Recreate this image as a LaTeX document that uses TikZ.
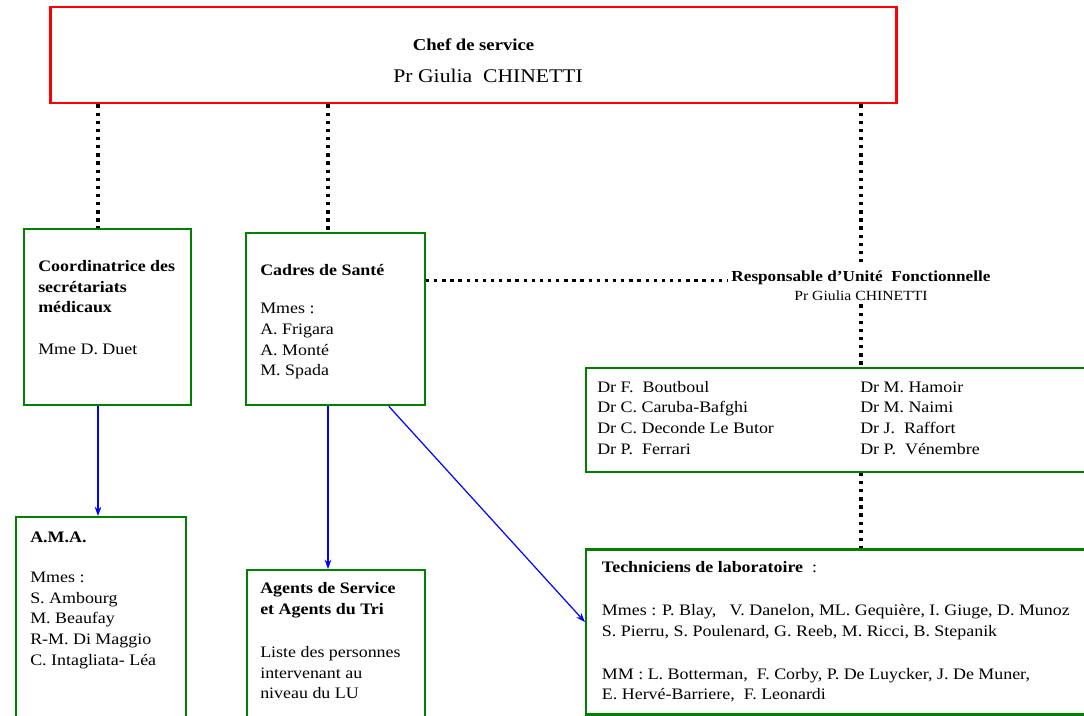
\documentclass[tikz,border=0pt]{standalone}
\usepackage{fontspec}
\setmainfont{Liberation Serif}[FakeStretch=1.12]
\usetikzlibrary{positioning,arrows.meta}
\definecolor{boxgreen}{RGB}{0,128,0}

\begin{document}
\begin{tikzpicture}[x=0.75pt, y=-0.75pt,
   redbox/.style={draw=red, line width=2.2pt},
   greenbox/.style={draw=boxgreen, line width=1.7pt, anchor=north west},
   dotline/.style={line width=2.5pt, dash pattern=on 2.5pt off 3.6pt},
   link/.style={draw=blue, line width=0.9pt, -{Stealth[length=7pt,width=5pt]}},
   txt/.style={anchor=north west, inner sep=0pt, align=left, font=\fontsize{12}{15.5}\selectfont}]
   \useasboundingbox (0,0) rectangle (1084,715);
   \clip (0,0) rectangle (1084,715);

   % boxes
   \node[redbox, minimum width=635pt, minimum height=72pt] (chef) at (473.5,55) {};
   \node[greenbox, minimum width=125pt, minimum height=132pt] (coord) at (23,228) {};
   \node[greenbox, minimum width=134pt, minimum height=129pt] (cadres) at (245,232) {};
   \node[greenbox, minimum width=394pt, minimum height=78pt] (docs) at (585,366.5) {};
   \node[greenbox, minimum width=127.5pt, minimum height=165pt] (ama) at (15,516) {};
   \node[greenbox, minimum width=133.5pt, minimum height=120pt] (agents) at (246,569) {};
   \node[greenbox, minimum width=394pt, minimum height=123.75pt] (tech) at (585,548.3) {};

   % texts
   \node[align=center, inner sep=0pt, font=\fontsize{14.5}{18}\selectfont, yshift=-4pt] (chefText) at (chef.center) {{\fontsize{12.5}{15}\bfseries Chef de service}\\[6pt]\hspace*{22pt}Pr Giulia~ CHINETTI};
   \node[txt] (coordText) at (38,256.7) {\strut\textbf{Coordinatrice des}\\\textbf{secrétariats}\\\textbf{médicaux}\\[15.5pt]Mme D. Duet};
   \node[txt] (cadresText) at (260,261) {\strut\textbf{Cadres de Santé}\\[13pt]Mmes :\\A. Frigara\\A. Monté\\M. Spada};
   \node[anchor=north, inner sep=3pt, align=center, font=\fontsize{11.5}{13}\selectfont] (resp) at (861,265) {\strut\textbf{Responsable d’Unité~ Fonctionnelle}\\[1pt]{\fontsize{10.5}{13}\selectfont Pr Giulia CHINETTI}};
   \node[txt] (docsLeft) at (597,377.5) {\strut Dr F.~ Boutboul\\Dr C. Caruba-Bafghi\\Dr C. Deconde Le Butor\\Dr P.~ Ferrari};
   \node[txt] (docsRight) at (860,377.5) {\strut Dr M. Hamoir\\Dr M. Naimi\\Dr J.~ Raffort\\Dr P.~ Vénembre};
   \node[txt] (amaText) at (30,527.5) {\strut\textbf{A.M.A.}\\[14.6pt]Mmes :\\S. Ambourg\\M. Beaufay\\R-M. Di Maggio\\C. Intagliata- Léa};
   \node[txt] (agentsText) at (260,579) {\strut\textbf{Agents de Service}\\\textbf{et Agents du Tri}\\[16.9pt]Liste des personnes\\intervenant au\\niveau du LU};
   \node[txt] (techText) at (601.7,558) {\strut\textbf{Techniciens de laboratoire}~ :\\[16.6pt]Mmes : P. Blay,~~ V. Danelon, ML. Gequière, I. Giuge, D. Munoz\\S. Pierru, S. Poulenard, G. Reeb, M. Ricci, B. Stepanik\\[16.6pt]MM : L. Botterman,~ F. Corby, P. De Luycker, J. De Muner,\\E. Hervé-Barriere,~ F. Leonardi};

   % links
   \draw[dotline] ([xshift=-7.1pt]coord.north |- chef.south) -- ([xshift=-7.1pt]coord.north);
   \draw[dotline] ([xshift=-5.6pt]cadres.north |- chef.south) -- ([xshift=-5.6pt]cadres.north);
   \draw[dotline] (resp.north |- chef.south) -- (resp.north);
   \draw[dotline] ([yshift=3pt]resp.west -| cadres.east) -- ([yshift=3pt]resp.west);
   \draw[dotline] (resp.south) -- (resp.south |- docs.north);
   \draw[dotline] (resp.south |- docs.south) -- (resp.south |- tech.north);
   \draw[link] ([xshift=-7.1pt]coord.south) -- ([xshift=-7.1pt]coord.south |- ama.north);
   \draw[link] ([xshift=-5.6pt]cadres.south) -- ([xshift=-5.6pt]cadres.south |- agents.north);
   \draw[link] ([xshift=40pt]cadres.south) -- ([yshift=7.4pt]tech.west);
\end{tikzpicture}
\end{document}
